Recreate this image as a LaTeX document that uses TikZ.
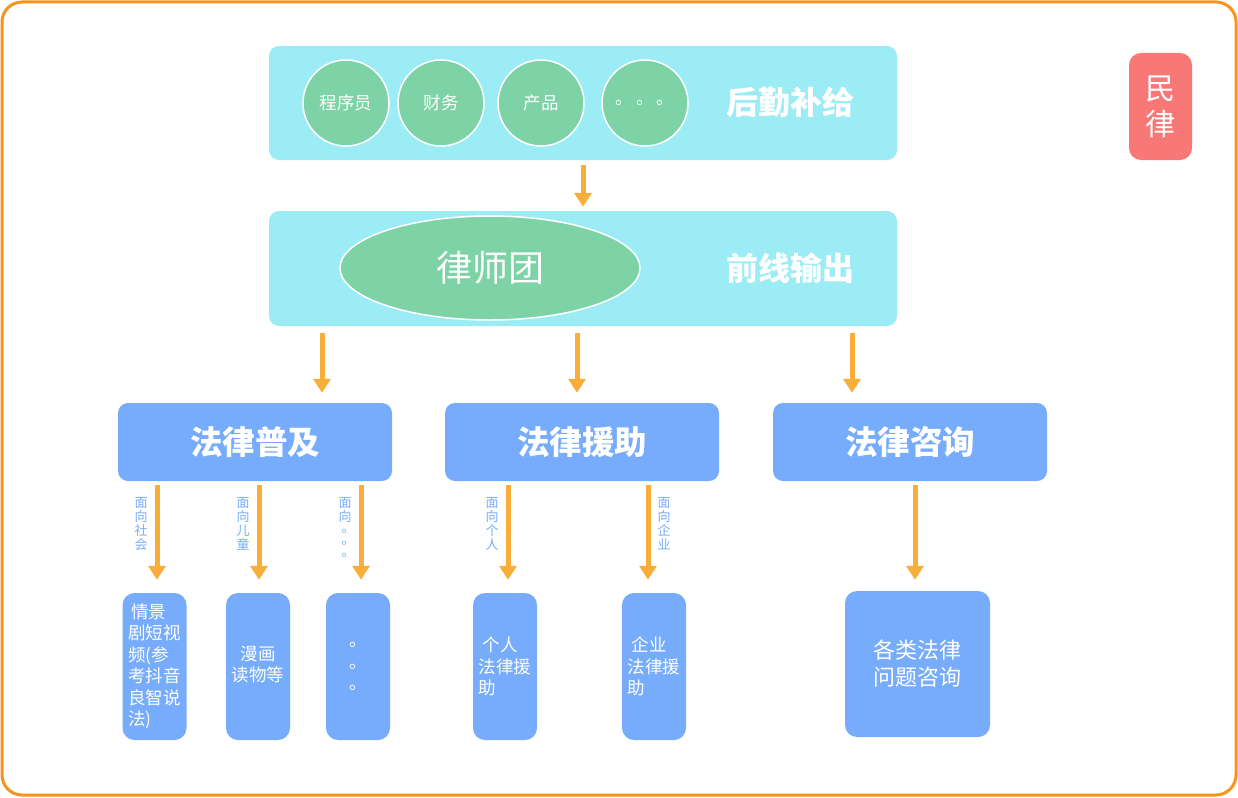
\documentclass[tikz,border=0pt]{standalone}
\usepackage{fontspec}
\setmainfont{Noto Sans CJK SC}
\usetikzlibrary{arrows.meta,calc,shapes.geometric}
\definecolor{bordero}{HTML}{F7941D}
\definecolor{cyanbox}{HTML}{9BECF5}
\definecolor{greenc}{HTML}{7DD3A5}
\definecolor{bluebox}{HTML}{76ACFB}
\definecolor{arro}{HTML}{F9AE3A}
\definecolor{redbox}{HTML}{F87878}
\definecolor{lbltxt}{HTML}{76ACFB}
\tikzset{
  panel/.style={fill=cyanbox,rounded corners=10pt,minimum width=628pt,inner sep=0pt},
  circ/.style={circle,fill=greenc,draw=white,line width=1.5pt,minimum size=86pt,inner sep=0pt,text=white,font=\fontsize{17.5}{19}\selectfont},
  bigtitle/.style={text=white,font=\fontsize{32}{34}\selectfont\bfseries},
  catbox/.style={fill=bluebox,rounded corners=10pt,minimum width=274pt,minimum height=78pt,inner sep=0pt,text=white,font=\fontsize{32.5}{34}\selectfont\bfseries},
  leaf/.style={fill=bluebox,rounded corners=12pt,minimum width=64pt,minimum height=147pt,inner sep=0pt,text=white,font=\fontsize{17.5}{21.5}\selectfont,align=left},
  arr/.style={draw=arro,line width=5pt,-{Triangle[width=17pt,length=14pt]}},
  vlabel/.style={text=lbltxt,font=\fontsize{13}{14}\selectfont,align=center,inner sep=0pt,anchor=north}
}
\begin{document}
\begin{tikzpicture}[x=1pt,y=-1pt]
\useasboundingbox (0,0) rectangle (1238,797);
\draw[draw=bordero,line width=3pt,rounded corners=20pt] (2,2) rectangle (1236,795);
% top panel
\node[panel,minimum height=114pt] (top) at (583,103) {};
\node[circ] (c1) at (346,103) {程序员};
\node[circ] (c2) at (441,103) {财务};
\node[circ] (c3) at (541,103) {产品};
\node[circ] (c4) at (645,103) {。\,。\,。};
\node[bigtitle] (t1) at (790,102) {后勤补给};
% second panel
\node[panel,minimum height=115pt] (lv) at (583,268.5) {};
\node[ellipse,fill=greenc,draw=white,line width=1.5pt,minimum width=300pt,minimum height=104pt,inner sep=0pt,text=white,font=\fontsize{36}{38}\selectfont] (law) at (490,268) {律师团};
\node[bigtitle] (t2) at (790,268) {前线输出};
% red tag
\node[fill=redbox,rounded corners=12pt,minimum width=63pt,minimum height=107pt,inner sep=0pt,text=white,align=center,font=\fontsize{30}{36}\selectfont] (tag) at (1160.5,106.5) {民\\律};
% categories
\node[catbox] (pj) at (255,442) {法律普及};
\node[catbox] (yz) at (582,442) {法律援助};
\node[catbox] (zx) at (910,442) {法律咨询};
% leaves
\node[leaf] (l1) at (154.5,666.5) {\,情景\\剧短视\\频(参\\考抖音\\良智说\\法)};
\node[leaf] (l2) at (258,666.5) {\raisebox{6pt}{\begin{tabular}{@{}c@{}}漫画\\读物等\end{tabular}}};
\node[leaf,align=center] (l3) at (358,666.5) {。\\。\\。};
\node[leaf] (l4) at (505,666.5) {\ 个人\\法律援\\助};
\node[leaf] (l5) at (654,666.5) {\ 企业\\法律援\\助};
\node[leaf,minimum width=145pt,minimum height=146pt,align=center,font=\fontsize{22}{27}\selectfont] (l6) at (917.5,664) {各类法律\\问题咨询};
% coordinates for arrows
\coordinate (a0) at (583,0);
\coordinate (a1) at (322,0);
\coordinate (a2) at (577,0);
\coordinate (a3) at (852,0);
\coordinate (b1) at (157,0);
\coordinate (b2) at (259,0);
\coordinate (b3) at (361,0);
\coordinate (b4) at (508,0);
\coordinate (b5) at (648,0);
\coordinate (b6) at (915,0);
\draw[arr,shorten <=5pt,shorten >=4pt] (top.south -| a0) -- (lv.north -| a0);
\draw[arr,shorten <=7pt,shorten >=10pt] (lv.south -| a1) -- (pj.north -| a1);
\draw[arr,shorten <=7pt,shorten >=10pt] (lv.south -| a2) -- (yz.north -| a2);
\draw[arr,shorten <=7pt,shorten >=10pt] (lv.south -| a3) -- (zx.north -| a3);
\draw[arr,shorten <=4pt,shorten >=13pt] (pj.south -| b1) -- (l1.north -| b1);
\draw[arr,shorten <=4pt,shorten >=13pt] (pj.south -| b2) -- (l2.north -| b2);
\draw[arr,shorten <=4pt,shorten >=13pt] (pj.south -| b3) -- (l3.north -| b3);
\draw[arr,shorten <=4pt,shorten >=13pt] (yz.south -| b4) -- (l4.north -| b4);
\draw[arr,shorten <=4pt,shorten >=13pt] (yz.south -| b5) -- (l5.north -| b5);
\draw[arr,shorten <=4pt,shorten >=11pt] (zx.south -| b6) -- (l6.north -| b6);
% labels
\node[vlabel] (v1) at (141,497) {面\\向\\社\\会};
\node[vlabel] (v2) at (243,497) {面\\向\\儿\\童};
\node[vlabel] (v3) at (345,497) {面\\向\\[-3pt]\hspace*{6pt}。\\[-2pt]\hspace*{6pt}。\\[-2pt]\hspace*{6pt}。};
\node[vlabel] (v4) at (492,497) {面\\向\\个\\人};
\node[vlabel] (v5) at (664,497) {面\\向\\企\\业};
\end{tikzpicture}
\end{document}
